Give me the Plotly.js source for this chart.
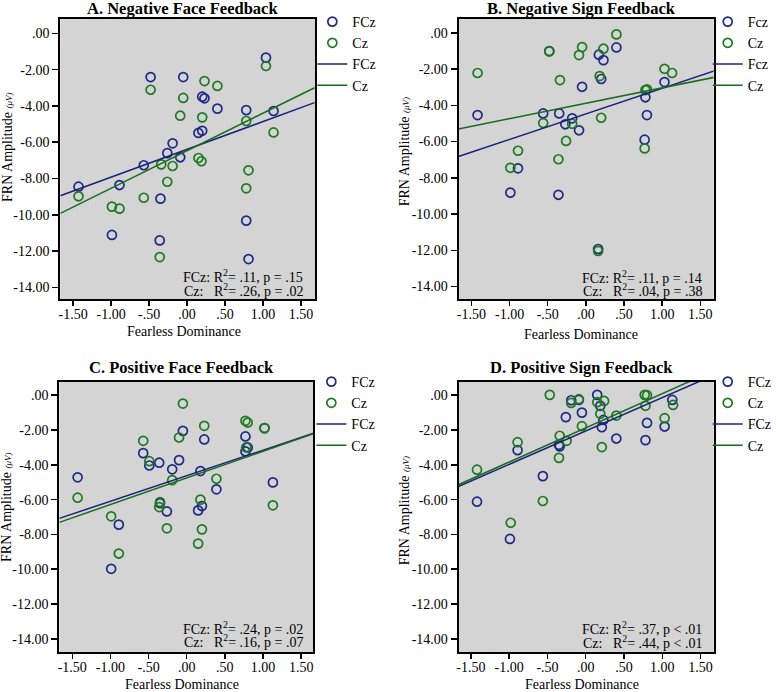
<!DOCTYPE html>
<html>
<head>
<meta charset="utf-8">
<script src="https://cdn.plot.ly/plotly-3.0.1.min.js"></script>
<style>html,body{margin:0;padding:0;background:#fff}#chart{width:777px;height:692px}</style>
</head>
<body>
<div id="chart"></div>
<script>
// ---------- Data ----------
// Panel A: Negative Face Feedback
const aFczX = [1.04, -0.48, -0.05, 0.20, 0.23, 0.40, 0.78, 1.14, 0.20, 0.15, -0.19, -0.26, -0.09, -0.57, -0.89, -1.43, -0.35, -0.99, -0.36, 0.78, 0.81];
const aFczY = [-1.34, -2.41, -2.41, -3.49, -3.58, -4.15, -4.23, -4.28, -5.37, -5.49, -6.06, -6.60, -6.83, -7.27, -8.36, -8.45, -9.11, -11.11, -11.41, -10.32, -12.44];
const aCzX = [1.04, -0.48, 0.23, 0.40, -0.05, -0.09, 0.20, 0.78, 1.14, 0.15, 0.19, -0.34, -0.19, 0.81, -0.26, 0.78, -1.43, -0.57, -0.99, -0.89, -0.36];
const aCzY = [-1.80, -3.11, -2.63, -2.90, -3.56, -4.54, -4.63, -4.83, -5.46, -6.87, -7.05, -7.22, -7.31, -7.55, -8.18, -8.54, -8.98, -9.06, -9.55, -9.66, -12.33];
const aFczFit = [-8.95, -3.82];
const aCzFit = [-9.92, -3.00];

// Panel B: Negative Sign Feedback
const bFczX = [-0.48, 0.40, 0.17, 0.23, 0.20, -0.05, 1.03, 0.78, 0.80, -1.42, -0.56, -0.35, -0.18, -0.27, -0.09, 0.77, -0.89, -0.99, -0.36, 0.16];
const bFczY = [-1.01, -0.81, -1.21, -1.51, -2.55, -2.98, -2.72, -3.56, -4.54, -4.54, -4.45, -4.45, -4.72, -5.05, -5.38, -5.90, -7.48, -8.82, -8.94, -11.93];
const bCzX = [0.40, -0.05, 0.23, -0.48, -0.09, 1.03, 1.13, -1.42, 0.18, -0.34, 0.78, 0.80, 0.20, -0.56, -0.18, -0.26, 0.77, -0.89, -0.99, -0.36, 0.16];
const bCzY = [-0.09, -0.79, -0.88, -1.03, -1.23, -1.99, -2.22, -2.22, -2.39, -2.61, -3.16, -3.12, -4.69, -4.98, -5.02, -5.97, -6.38, -6.51, -7.45, -6.98, -12.04];
const bFczFit = [-6.83, -2.11];
const bCzFit = [-5.31, -2.46];

// Panel C: Positive Face Feedback
const cFczX = [-0.05, 0.23, 0.77, 0.80, 0.77, -0.57, -0.49, -0.36, -0.10, -0.19, 0.18, -1.43, 1.13, 0.39, -0.35, 0.20, 0.15, -0.26, -0.89, 1.02, -0.99];
const cFczY = [-2.05, -2.54, -2.37, -3.00, -3.23, -3.33, -4.04, -3.88, -3.73, -4.26, -4.36, -4.72, -5.01, -5.41, -6.21, -6.37, -6.62, -6.68, -7.44, -1.89, -9.98];
const cCzX = [-0.05, 0.77, 0.80, 0.23, 1.02, -0.57, -0.10, 0.78, -0.49, -0.19, 0.39, -1.43, 0.18, -0.35, -0.36, 1.13, -0.99, -0.26, 0.20, 0.15, -0.89];
const cCzY = [-0.48, -1.47, -1.57, -1.76, -1.89, -2.62, -2.43, -3.00, -3.79, -4.88, -4.80, -5.89, -6.00, -6.14, -6.43, -6.33, -6.96, -7.65, -7.71, -8.53, -9.10];
const cFczFit = [-7.08, -2.16];
const cCzFit = [-7.31, -2.18];

// Panel D: Positive Sign Feedback
const dFczX = [0.15, -0.19, -0.09, 0.19, 1.13, -0.05, -0.26, 0.23, 0.21, 0.80, 1.03, 0.40, 0.78, -0.89, -0.34, -0.35, -0.56, -1.42, -0.99];
const dFczY = [0.02, -0.29, -0.27, -0.61, -0.27, -1.00, -1.26, -1.42, -1.84, -1.59, -1.80, -2.49, -2.58, -3.16, -2.94, -2.85, -4.65, -6.12, -8.26];
const dCzX = [-0.47, 0.77, 0.80, -0.19, -0.09, 0.15, 0.24, 0.78, 1.14, 0.19, 0.40, 1.03, -0.05, -0.34, -0.25, -0.89, 0.21, -0.35, -1.42, -0.56, -0.98];
const dCzY = [0.02, 0.02, 0.00, -0.44, -0.23, -0.40, -0.33, -0.61, -0.56, -1.07, -1.17, -1.32, -1.78, -2.33, -2.62, -2.70, -2.98, -3.60, -4.28, -6.08, -7.33];
const dFczFit = [-5.26, 1.17];
const dCzFit = [-5.16, 1.43];

// Shared x for fit-line endpoints (axis edges)
const fitX = [-1.67, 1.68];

// Titles, legends, stats
const panelTitles = ['A. Negative Face Feedback', 'B. Negative Sign Feedback', 'C. Positive Face Feedback', 'D. Positive Sign Feedback'];
const fczNames = ['FCz', 'Fcz', 'FCz', 'FCz'];
const czNames = ['Cz', 'Cz', 'Cz', 'Cz'];
const statsFcz = ['FCz: R<sup>2</sup>= .11, p = .15', 'FCz: R<sup>2</sup>= .11, p = .14', 'FCz: R<sup>2</sup>= .24, p = .02', 'FCz: R<sup>2</sup>= .37, p < .01'];
const statsCz = ['Cz:\u00a0\u00a0\u00a0R<sup>2</sup>= .26, p = .02', 'Cz:\u00a0\u00a0\u00a0R<sup>2</sup>= .04, p = .38', 'Cz:\u00a0\u00a0\u00a0R<sup>2</sup>= .16, p = .07', 'Cz:\u00a0\u00a0\u00a0R<sup>2</sup>= .44, p < .01'];
const xTitle = 'Fearless Dominance';
const yTitle = 'FRN Amplitude <i><span style="font-size:9px">(μV)</span></i>';

// Tick labels
const yTickVals = [0, -2, -4, -6, -8, -10, -12, -14];
const yTickText = ['.00', '-2.00', '-4.00', '-6.00', '-8.00', '-10.00', '-12.00', '-14.00'];
const xTickVals = [-1.5, -1.0, -0.5, 0, 0.5, 1.0, 1.5];
const xTickText = ['-1.50', '-1.00', '-.50', '.00', '.50', '1.00', '1.50'];

// ---------- Styling / layout ----------
const W = 777, H = 692;
const serif = '"Liberation Serif", "Times New Roman", serif';
const BLUE = '#1f2a86';
const GREEN = '#1e7a22';
const BLUE_LINE = '#1a237a';
const GREEN_LINE = '#1b6b1f';
const px = v => v / W;
const py = v => 1 - v / H;

const panels = [
  {fx: aFczX, fy: aFczY, cx: aCzX, cy: aCzY, ff: aFczFit, cf: aCzFit, xd: [61, 319], yd: [19, 299], xr: [-1.67, 1.69], yr: [-14.64, 0.79],
   title: [185, 9], leg: [316, 6], st: [308, 276.5, 289.5], xt: [186.5, 332], yt: [7, 147]},
  {fx: bFczX, fy: bFczY, cx: bCzX, cy: bCzY, ff: bFczFit, cf: bCzFit, xd: [464, 722], yd: [19, 299], xr: [-1.668, 1.674], yr: [-14.69, 0.76],
   title: [588, 9], leg: [716, 6], st: [711.5, 277, 290], xt: [587.7, 334], yt: [409, 152]},
  {fx: cFczX, fy: cFczY, cx: cCzX, cy: cCzY, ff: cFczFit, cf: cCzFit, xd: [60, 317], yd: [382, 652], xr: [-1.67, 1.66], yr: [-14.76, 0.76],
   title: [184, 367], leg: [315, 366], st: [307.5, 627.5, 641], xt: [184.2, 684], yt: [7, 507]},
  {fx: dFczX, fy: dFczY, cx: dCzX, cy: dCzY, ff: dFczFit, cf: dCzFit, xd: [464, 722], yd: [382, 652], xr: [-1.66, 1.67], yr: [-14.76, 0.76],
   title: [588, 368], leg: [716, 366], st: [711, 628, 641.5], xt: [589.2, 684], yt: [409, 511]}
];

const traces = [];
const layout = {
  width: W, height: H,
  margin: {l: 0, r: 0, t: 0, b: 0},
  paper_bgcolor: '#ffffff',
  plot_bgcolor: '#d4d4d4',
  showlegend: true,
  font: {family: serif, size: 14, color: '#000'},
  annotations: []
};

const txt = (text, x, y, xanchor, size, extra) => Object.assign({
  text, xref: 'paper', yref: 'paper', x: px(x), y: py(y), xanchor, yanchor: 'middle',
  showarrow: false, borderpad: 0, font: {family: serif, size, color: '#000'}
}, extra || {});

panels.forEach((p, i) => {
  const n = i + 1;
  const xa = n === 1 ? 'x' : 'x' + n;
  const ya = n === 1 ? 'y' : 'y' + n;
  const lg = n === 1 ? 'legend' : 'legend' + n;
  const mk = (c) => ({symbol: 'circle-open', size: 9, color: c, line: {width: 1.7, color: c}});
  traces.push({type: 'scatter', mode: 'markers', x: p.fx, y: p.fy, xaxis: xa, yaxis: ya, name: fczNames[i], legend: lg, marker: mk(BLUE), hoverinfo: 'skip'});
  traces.push({type: 'scatter', mode: 'markers', x: p.cx, y: p.cy, xaxis: xa, yaxis: ya, name: czNames[i], legend: lg, marker: mk(GREEN), hoverinfo: 'skip'});
  traces.push({type: 'scatter', mode: 'lines', x: fitX, y: p.ff, xaxis: xa, yaxis: ya, name: fczNames[i], legend: lg, line: {color: BLUE_LINE, width: 1.5}, hoverinfo: 'skip'});
  traces.push({type: 'scatter', mode: 'lines', x: fitX, y: p.cf, xaxis: xa, yaxis: ya, name: czNames[i], legend: lg, line: {color: GREEN_LINE, width: 1.5}, hoverinfo: 'skip'});

  const xKey = n === 1 ? 'xaxis' : 'xaxis' + n;
  const yKey = n === 1 ? 'yaxis' : 'yaxis' + n;
  layout[xKey] = {
    domain: [px(p.xd[0]), px(p.xd[1])], anchor: ya, range: p.xr,
    tickmode: 'array', tickvals: xTickVals, ticktext: xTickText,
    ticks: 'outside', ticklen: 5, tickwidth: 1.5, tickcolor: '#000',
    ticklabelstandoff: -4,
    showline: true, linewidth: 2, linecolor: '#000', mirror: true,
    showgrid: false, zeroline: false, fixedrange: true,
    tickfont: {family: serif, size: 14, color: '#000'}
  };
  layout[yKey] = {
    domain: [py(p.yd[1]), py(p.yd[0])], anchor: xa, range: p.yr,
    tickmode: 'array', tickvals: yTickVals, ticktext: yTickText,
    ticks: 'outside', ticklen: 6, tickwidth: 1.5, tickcolor: '#000',
    showline: true, linewidth: 2, linecolor: '#000', mirror: true,
    showgrid: false, zeroline: false, fixedrange: true,
    tickfont: {family: serif, size: 14, color: '#000'}
  };
  layout[lg] = {
    x: px(p.leg[0]), y: py(p.leg[1]), xanchor: 'left', yanchor: 'top',
    xref: 'paper', yref: 'paper',
    bgcolor: 'rgba(0,0,0,0)', borderwidth: 0,
    font: {family: serif, size: 14, color: '#000'},
    itemwidth: 30, traceorder: 'normal'
  };
  layout.annotations.push(txt('<b>' + panelTitles[i] + '</b>', p.title[0], p.title[1], 'center', 16.5));
  layout.annotations.push(txt(statsFcz[i], p.st[0], p.st[1], 'right', 14));
  layout.annotations.push(txt(statsCz[i], p.st[0], p.st[2], 'right', 14));
  layout.annotations.push(txt(xTitle, p.xt[0], p.xt[1], 'center', 14));
  layout.annotations.push(txt(yTitle, p.yt[0], p.yt[1], 'center', 14, {textangle: -90}));
});

Plotly.newPlot('chart', traces, layout, {staticPlot: true, displayModeBar: false});
</script>
</body>
</html>
